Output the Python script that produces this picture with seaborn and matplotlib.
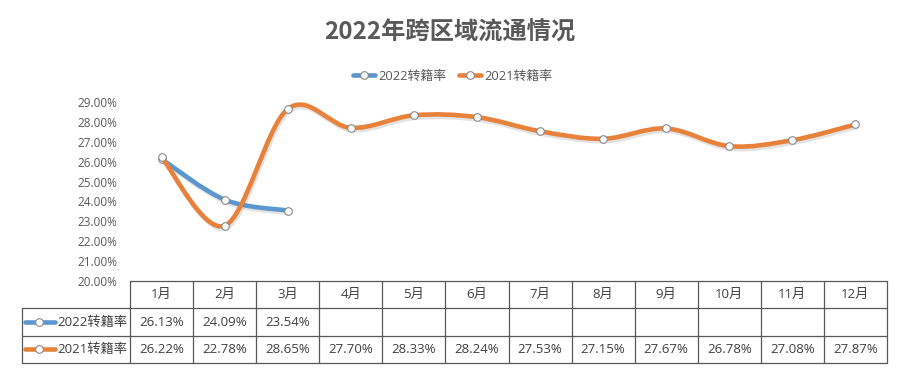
import numpy as np
import pandas as pd
import matplotlib
matplotlib.use("Agg")
import matplotlib.pyplot as plt
import seaborn as sns
from matplotlib.path import Path
from matplotlib.patches import PathPatch
from matplotlib.lines import Line2D
import matplotlib.patheffects as pe

sns.set_theme(style="white")
plt.rcParams['font.family'] = ['Open Sans', 'Noto Sans CJK SC', 'DejaVu Sans']

# ---------------- data ----------------
months = ["1月", "2月", "3月", "4月", "5月", "6月", "7月", "8月", "9月", "10月", "11月", "12月"]
rate_2022 = [26.13, 24.09, 23.54]
rate_2021 = [26.22, 22.78, 28.65, 27.70, 28.33, 28.24, 27.53, 27.15, 27.67, 26.78, 27.08, 27.87]
series_names = ["2022转籍率", "2021转籍率"]
title = "2022年跨区域流通情况"
y_ticks = [20, 21, 22, 23, 24, 25, 26, 27, 28, 29]

colors = ["#5B96CE", "#E8813A"]
text_gray = "#595959"
cell_text = "#404040"
grid_col = "#595959"
marker_edge = "#8a8a8a"

W, H = 911, 385
fig = plt.figure(figsize=(W / 100, H / 100), dpi=100)


def fx(px):
    return px / W


def fy(py):
    return 1 - py / H


# main axes: x from 130 to 887 px, y from 102 (29%) to 281 (20%)
ax = fig.add_axes([fx(130), fy(281), fx(887) - fx(130), fy(102) - fy(281)])
ax.set_xlim(-0.5, len(months) - 0.5)
ax.set_ylim(20, 29)


def smooth_path(xs, ys):
    pts = np.column_stack([xs, ys]).astype(float)
    n = len(pts)
    verts = [pts[0]]
    codes = [Path.MOVETO]
    for i in range(n - 1):
        p_prev = pts[i - 1] if i > 0 else pts[i]
        p_next2 = pts[i + 2] if i + 2 < n else pts[i + 1]
        c1 = pts[i] + (pts[i + 1] - p_prev) / 6
        c2 = pts[i + 1] - (p_next2 - pts[i]) / 6
        verts += [c1, c2, pts[i + 1]]
        codes += [Path.CURVE4] * 3
    return Path(verts, codes)


shadow = [pe.SimpleLineShadow(offset=(1.0, -1.8), shadow_color="#808080", alpha=0.22),
          pe.Normal()]

z = 2
for name, vals, col in [(series_names[0], rate_2022, colors[0]),
                        (series_names[1], rate_2021, colors[1])]:
    xs = np.arange(len(vals))
    patch = PathPatch(smooth_path(xs, vals), facecolor="none", edgecolor=col,
                      lw=3.3, capstyle="round", joinstyle="round", zorder=z)
    patch.set_path_effects(shadow)
    ax.add_patch(patch)
    df = pd.DataFrame({"x": xs, "y": vals, "s": name})
    sns.scatterplot(data=df, x="x", y="y", ax=ax, s=30, color="white",
                    edgecolor=marker_edge, linewidth=0.8, zorder=z + 0.5, legend=False)
    z += 1

ax.set_yticks(y_ticks)
ax.set_yticklabels([f"{v:.2f}%" for v in y_ticks], color=text_gray, fontsize=8.5)
ax.tick_params(axis="y", length=0, pad=9)
ax.set_xticks([])
ax.set_xlabel("")
ax.set_ylabel("")
for s in ax.spines.values():
    s.set_visible(False)
ax.patch.set_alpha(0)

# title
fig.text(fx(450), fy(33), title, ha="center", va="center", fontsize=17.5,
         fontweight="bold", color=text_gray, family=['Noto Sans CJK SC', 'DejaVu Sans'])

# legend
handles = [Line2D([0], [0], color=c, lw=3.3, marker="o", markersize=5.5,
                  markerfacecolor="white", markeredgecolor=marker_edge,
                  markeredgewidth=0.8) for c in colors]
fig.legend(handles, series_names, loc="center", bbox_to_anchor=(fx(453), fy(76)),
           ncol=2, frameon=False, fontsize=9.3, handlelength=1.7, handletextpad=0.25,
           columnspacing=1.0, labelcolor=text_gray)

# data table
tab = fig.add_axes([fx(130), fy(363), fx(887) - fx(130), fy(281) - fy(363)])
ncol = len(months)
tab.set_xlim(-0.5, ncol - 0.5)
tab.set_ylim(3, 0)
tab.axis("off")
colw_px = (887 - 130) / ncol
left_lab = -0.5 - (130 - 22) / colw_px
lw_t = 0.9
# horizontal lines
tab.plot([-0.5, ncol - 0.5], [0, 0], color=grid_col, lw=lw_t, clip_on=False)
for r in [1, 2, 3]:
    tab.plot([left_lab, ncol - 0.5], [r, r], color=grid_col, lw=lw_t, clip_on=False)
# vertical lines
for c in range(ncol + 1):
    tab.plot([c - 0.5, c - 0.5], [0, 3], color=grid_col, lw=lw_t, clip_on=False)
tab.plot([left_lab, left_lab], [1, 3], color=grid_col, lw=lw_t, clip_on=False)

for i, m in enumerate(months):
    tab.text(i, 0.5, m, ha="center", va="center", fontsize=9.5, color=cell_text)
for r, (name, vals, col) in enumerate([(series_names[0], rate_2022, colors[0]),
                                        (series_names[1], rate_2021, colors[1])]):
    yrow = 1.5 + r
    for i, v in enumerate(vals):
        tab.text(i, yrow, f"{v:.2f}%", ha="center", va="center", fontsize=9.5,
                 color=cell_text)
    k0 = -0.5 - (130 - 25) / colw_px
    k1 = -0.5 - (130 - 55) / colw_px
    km = -0.5 - (130 - 39) / colw_px
    tab.plot([k0, k1], [yrow, yrow], color=col, lw=3.3, clip_on=False,
             solid_capstyle="round")
    tab.plot([km], [yrow], marker="o", markersize=5.5, markerfacecolor="white",
             markeredgecolor=marker_edge, markeredgewidth=0.8, clip_on=False)
    tab.text(-0.5 - (130 - 57) / colw_px, yrow, name, ha="left", va="center",
             fontsize=9.5, color=cell_text)

fig.savefig("out.png", dpi=100, facecolor="white")
